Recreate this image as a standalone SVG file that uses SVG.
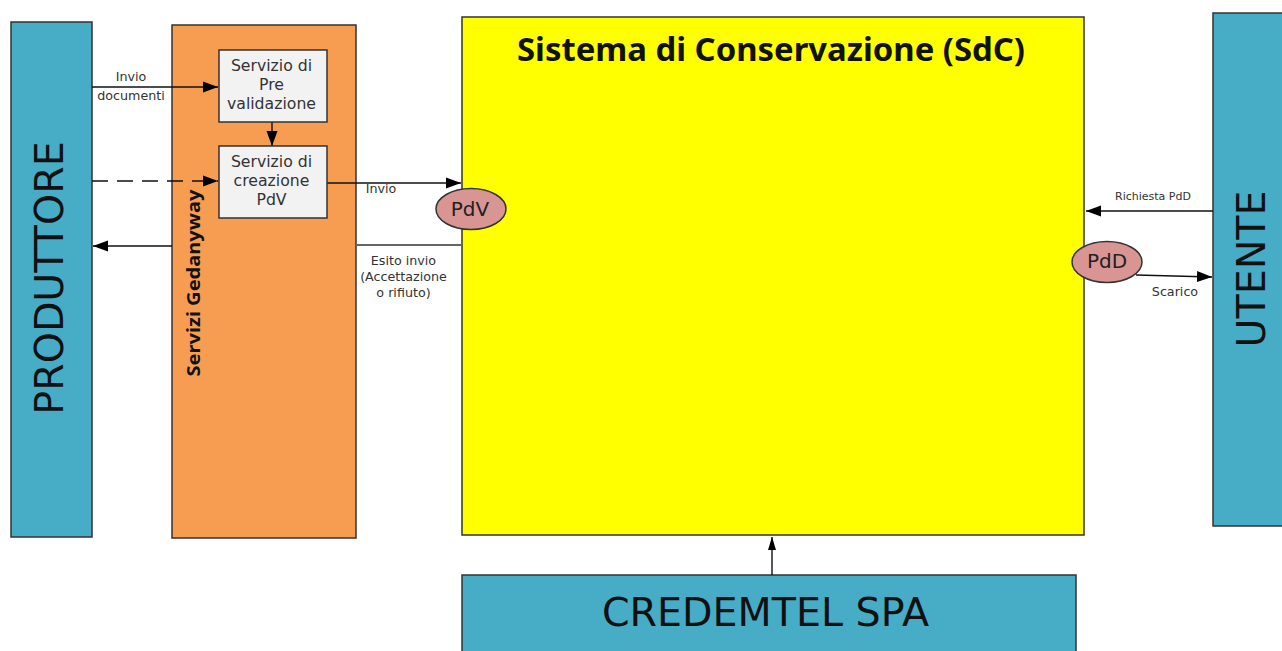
<svg xmlns="http://www.w3.org/2000/svg" width="1282" height="651" viewBox="0 0 1282 651">
<style>
text{font-family:"DejaVu Sans",Verdana,sans-serif;text-anchor:middle;fill:#111}
.box{stroke:#333;stroke-width:1.5}
.teal{fill:#47acc6}
.big{font-size:39.6px}
.srv{fill:#f2f2f2;stroke:#333;stroke-width:1.5}
.srvt{font-size:15.7px;fill:#333}
.lab{font-size:12.7px;fill:#333}
.ell{fill:#d99594;stroke:#333;stroke-width:1.5}
.ellt{font-size:20px;fill:#222}
.c{fill:none;stroke:#111;stroke-width:1.4}
</style>
<defs>
<marker id="a" markerUnits="userSpaceOnUse" markerWidth="16" markerHeight="12" refX="15" refY="6" orient="auto"><path d="M0 0.5L15 6L0 11.5z" fill="#000"/></marker>
<marker id="s" markerUnits="userSpaceOnUse" markerWidth="14" markerHeight="10" refX="13" refY="5" orient="auto"><path d="M0 1L13 5L0 9z" fill="#000"/></marker>
</defs>
<rect x="0" y="0" width="1282" height="651" fill="#fff"/>
<g id="produttore"><rect class="box teal" x="11" y="22" width="81" height="515"/><text class="big" transform="translate(63,278) rotate(-90)">PRODUTTORE</text></g>
<g id="servizi-gedanyway"><rect class="box" x="172" y="25" width="184" height="513" fill="#f79d52"/><text transform="translate(200,283) rotate(-90)" style="font-family:'Noto Sans',sans-serif;font-weight:700;font-size:18px" textLength="187" lengthAdjust="spacingAndGlyphs">Servizi Gedanyway</text></g>
<g id="sistema"><rect class="box" x="462" y="17" width="622" height="518" fill="#ff0"/><text x="771" y="61" style="font-family:'Noto Sans',sans-serif;font-weight:700;font-size:33px" textLength="508" lengthAdjust="spacingAndGlyphs">Sistema di Conservazione (SdC)</text></g>
<g id="utente"><rect class="box teal" x="1213" y="13" width="72" height="513"/><text class="big" transform="translate(1265,269) rotate(-90)">UTENTE</text></g>
<g id="credemtel"><rect class="box teal" x="462" y="575" width="614" height="90"/><text x="765.5" y="626" class="big">CREDEMTEL SPA</text></g>
<g id="connectors">
<path class="c" d="M92 87H218" marker-end="url(#a)"/>
<path class="c" d="M272 122V146" marker-end="url(#a)"/>
<path class="c" d="M92 181H218" stroke-dasharray="16 9" marker-end="url(#a)"/>
<path class="c" d="M172 246H93" marker-end="url(#a)"/>
<path class="c" d="M327 183H461" marker-end="url(#a)"/>
<path class="c" d="M356 245H462" style="stroke:#666;stroke-width:2"/>
<path class="c" d="M1213 211H1086" marker-end="url(#a)"/>
<path class="c" d="M1136 275L1212 277" marker-end="url(#a)"/>
<path class="c" d="M772 575V537" marker-end="url(#s)"/>
</g>
<g id="pre-validazione"><rect class="srv" x="219" y="50" width="108" height="72"/><text class="srvt" x="271.5" y="71">Servizio di</text><text class="srvt" x="271.5" y="90">Pre</text><text class="srvt" x="271.5" y="109">validazione</text></g>
<g id="creazione-pdv"><rect class="srv" x="219" y="146" width="108" height="72"/><text class="srvt" x="271.5" y="167">Servizio di</text><text class="srvt" x="271.5" y="186">creazione</text><text class="srvt" x="271.5" y="205">PdV</text></g>
<g id="pdv"><ellipse class="ell" cx="471" cy="209" rx="35" ry="20.5"/><text class="ellt" x="470" y="216">PdV</text></g>
<g id="pdd"><ellipse class="ell" cx="1107" cy="262" rx="35" ry="20.5"/><text class="ellt" x="1107" y="268">PdD</text></g>
<g id="labels">
<text class="lab" x="131" y="81">Invio</text>
<text class="lab" x="131" y="100">documenti</text>
<text class="lab" x="381" y="193">Invio</text>
<text class="lab" x="403.500" y="265">Esito invio</text>
<text class="lab" x="403.500" y="281">(Accettazione</text>
<text class="lab" x="403.500" y="297">o rifiuto)</text>
<text class="lab" x="1153" y="200" style="font-size:11px">Richiesta PdD</text>
<text class="lab" x="1175" y="296">Scarico</text>
</g>
</svg>
